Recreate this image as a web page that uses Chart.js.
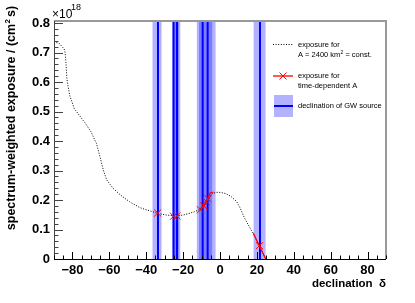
<!DOCTYPE html>
<html>
<head>
<meta charset="utf-8">
<script src="https://cdn.jsdelivr.net/npm/chart.js@4.4.0/dist/chart.umd.min.js"></script>
<style>
  body { margin: 0; background: #fff; }
  #wrap { width: 415px; height: 303px; }
</style>
</head>
<body>
<div id="wrap"><canvas id="expoChart" width="415" height="303"></canvas></div>
<script>
// exposure for constant A (dotted curve)
const curveDec = [-90, -87, -84.5, -84, -83.5, -83, -81.5, -79, -76, -73, -70, -67, -65, -63.3, -61.4, -58, -54, -49, -43.4, -38, -33.8, -29, -24.4, -20, -17, -14, -11.7, -9.5, -7.2, -5.5, -4, -2, 0, 3, 6, 9, 11, 13, 15.4, 18, 20.8, 24.8];
const curveExp = [0.737, 0.730, 0.712, 0.700, 0.665, 0.610, 0.555, 0.510, 0.485, 0.460, 0.432, 0.392, 0.345, 0.302, 0.268, 0.240, 0.217, 0.194, 0.174, 0.163, 0.155, 0.149, 0.146, 0.149, 0.154, 0.160, 0.166, 0.178, 0.194, 0.210, 0.222, 0.226, 0.226, 0.222, 0.212, 0.195, 0.172, 0.143, 0.115, 0.087, 0.053, 0.0];

// exposure for time-dependent A (red line pieces, null = break)
const tdLineDec = [-10.8, -9.5, -8.3, -7.2, -6.2, -5.4, -3.6, null, 18.1, 21.2, 24.8];
const tdLineExp = [0.166, 0.174, 0.185, 0.198, 0.210, 0.224, 0.227, null, 0.087, 0.046, 0.0];
const tdCrossDec = [-33.8, -25.2, -23.4, -10.6, -8.8, -7.4, -6.6, 21.4];
const tdCrossExp = [0.156, 0.145, 0.146, 0.167, 0.180, 0.195, 0.205, 0.045];

// GW source declinations and uncertainty bands
const srcDec = [-33.6, -25.2, -23.3, -9.4, -6.7, 21.7];
const srcLo = [-36.7, -25.9, -25.0, -12.7, -11.4, 18.1];
const srcHi = [-31.6, -22.3, -21.4, -4.1, -2.3, 24.8];

const xTicks = [-80, -60, -40, -20, 0, 20, 40, 60, 80];
const yTicks = [0, 0.1, 0.2, 0.3, 0.4, 0.5, 0.6, 0.7, 0.8];
const yTop = 0.807;

const fontFam = '"Liberation Sans", Arial, Helvetica, sans-serif';

const datasets = [];
srcDec.forEach(function(d, i) {
  datasets.push({
    type: 'line',
    data: [{x: srcLo[i], y: yTop}, {x: srcHi[i], y: yTop}],
    fill: 'origin',
    backgroundColor: 'rgba(0, 0, 255, 0.3)',
    borderWidth: 0,
    pointRadius: 0,
    order: 5
  });
  datasets.push({
    type: 'line',
    data: [{x: d, y: 0}, {x: d, y: yTop}],
    borderColor: '#0000ff',
    borderWidth: 2,
    pointRadius: 0,
    fill: false,
    order: 4
  });
});
datasets.push({
  type: 'line',
  data: curveDec.map((d, i) => ({x: d, y: curveExp[i]})),
  borderColor: '#000',
  borderWidth: 1,
  borderDash: [1, 1.6],
  pointRadius: 0,
  fill: false,
  order: 3
});
datasets.push({
  type: 'line',
  data: tdLineDec.map((d, i) => ({x: d, y: tdLineExp[i]})),
  borderColor: '#ff0000',
  borderWidth: 1.3,
  pointRadius: 0,
  spanGaps: false,
  fill: false,
  order: 2
});
datasets.push({
  type: 'scatter',
  data: tdCrossDec.map((d, i) => ({x: d, y: tdCrossExp[i]})),
  pointStyle: 'crossRot',
  pointRadius: 5,
  borderColor: '#ff0000',
  borderWidth: 1,
  showLine: false,
  order: 1
});

// frame, inward ticks, titles and legend
const decorPlugin = {
  id: 'decor',
  afterDraw: function(chart) {
    const ctx = chart.ctx;
    const a = chart.chartArea;
    const xs = chart.scales.x, ys = chart.scales.y;
    ctx.save();
    // top and right frame
    ctx.strokeStyle = '#999';
    ctx.lineWidth = 2;
    ctx.beginPath();
    ctx.moveTo(a.left, a.top);
    ctx.lineTo(a.right, a.top);
    ctx.lineTo(a.right, a.bottom);
    ctx.stroke();
    // y axis + ticks
    ctx.strokeStyle = '#444';
    ctx.lineWidth = 1;
    ctx.beginPath();
    ctx.moveTo(a.left + 0.5, a.top);
    ctx.lineTo(a.left + 0.5, a.bottom);
    for (let k = 0; k <= 40; k++) {
      const v = k * 0.02;
      const py = Math.round(ys.getPixelForValue(v)) + 0.5;
      const len = (k % 5 === 0) ? 9 : 4.5;
      ctx.moveTo(a.left, py);
      ctx.lineTo(a.left + len, py);
    }
    ctx.stroke();
    // x axis + ticks
    ctx.strokeStyle = '#000';
    ctx.beginPath();
    ctx.moveTo(a.left, a.bottom + 0.5);
    ctx.lineTo(a.right, a.bottom + 0.5);
    for (let v = -90; v <= 90; v += 5) {
      const px = Math.round(xs.getPixelForValue(v)) + 0.5;
      const len = (v % 20 === 0) ? 7 : 3.5;
      ctx.moveTo(px, a.bottom);
      ctx.lineTo(px, a.bottom - len);
    }
    ctx.stroke();

    // axis titles
    ctx.fillStyle = '#000';
    ctx.font = 'bold 11.5px ' + fontFam;
    ctx.textAlign = 'right';
    ctx.textBaseline = 'middle';
    ctx.fillText('declination  δ', a.right, 284);

    const yTitle = 'spectrum-weighted exposure / (cm  s)';
    ctx.save();
    ctx.translate(12, 118);
    ctx.rotate(-Math.PI / 2);
    ctx.font = 'bold 12.5px ' + fontFam;
    ctx.textAlign = 'center';
    ctx.fillText(yTitle, 0, 0);
    const w = ctx.measureText(yTitle).width;
    const wPre = ctx.measureText('spectrum-weighted exposure / (cm').width;
    ctx.font = 'bold 8px ' + fontFam;
    ctx.textAlign = 'left';
    ctx.fillText('2', -w / 2 + wPre + 0.5, -4.5);
    ctx.restore();

    // x10^18
    ctx.font = '12px ' + fontFam;
    ctx.textAlign = 'left';
    ctx.textBaseline = 'alphabetic';
    ctx.fillText('×10', 52, 18);
    ctx.font = '9px ' + fontFam;
    ctx.fillText('18', 71, 10);

    // legend
    ctx.font = '7.5px ' + fontFam;
    ctx.textBaseline = 'middle';
    ctx.strokeStyle = '#000';
    ctx.lineWidth = 1;
    ctx.setLineDash([1, 1.6]);
    ctx.beginPath();
    ctx.moveTo(273, 44.5);
    ctx.lineTo(293, 44.5);
    ctx.stroke();
    ctx.setLineDash([]);
    ctx.fillText('exposure for', 298, 44.5);
    ctx.fillText('A = 2400 km', 298, 55);
    const wA = ctx.measureText('A = 2400 km').width;
    ctx.font = '5px ' + fontFam;
    ctx.fillText('2', 298 + wA + 0.3, 52.5);
    ctx.font = '7.5px ' + fontFam;
    ctx.fillText(' = const.', 298 + wA + 3, 55);

    ctx.strokeStyle = '#ff0000';
    ctx.lineWidth = 1.3;
    ctx.beginPath();
    ctx.moveTo(273, 76);
    ctx.lineTo(293, 76);
    ctx.stroke();
    ctx.lineWidth = 1;
    ctx.beginPath();
    ctx.moveTo(279.5, 72.5); ctx.lineTo(286.5, 79.5);
    ctx.moveTo(279.5, 79.5); ctx.lineTo(286.5, 72.5);
    ctx.stroke();
    ctx.fillText('exposure for', 298, 76);
    ctx.fillText('time-dependent A', 298, 86);

    ctx.fillStyle = 'rgba(0, 0, 255, 0.3)';
    ctx.fillRect(274, 95, 19, 22);
    ctx.strokeStyle = '#0000ff';
    ctx.lineWidth = 2;
    ctx.beginPath();
    ctx.moveTo(274, 106);
    ctx.lineTo(293, 106);
    ctx.stroke();
    ctx.fillStyle = '#000';
    ctx.fillText('declination of GW source', 298, 106);
    ctx.restore();
  }
};

const ctxExpo = document.getElementById('expoChart').getContext('2d');
const expoChart = new Chart(ctxExpo, {
  data: { datasets: datasets },
  options: {
    responsive: false,
    animation: false,
    layout: { padding: { top: 21, right: 29, left: 0, bottom: 0 } },
    plugins: { legend: { display: false }, tooltip: { enabled: false } },
    scales: {
      x: {
        type: 'linear',
        min: -90,
        max: 90,
        afterBuildTicks: function(s) { s.ticks = xTicks.map(v => ({value: v})); },
        afterFit: function(s) { s.height = 44; },
        grid: { display: false, drawTicks: false },
        border: { display: false },
        ticks: {
          autoSkip: false,
          maxRotation: 0,
          padding: 4,
          color: '#000',
          font: { family: fontFam, size: 13, weight: 'bold' },
          callback: function(v) { return v < 0 ? '\u2212' + Math.abs(v) : String(v); }
        }
      },
      y: {
        type: 'linear',
        min: 0,
        max: yTop,
        afterBuildTicks: function(s) { s.ticks = yTicks.map(v => ({value: v})); },
        afterFit: function(s) { s.width = 54; },
        grid: { display: false, drawTicks: false },
        border: { display: false },
        ticks: {
          padding: 4,
          color: '#000',
          font: { family: fontFam, size: 13, weight: 'bold' },
          callback: function(v) { return v === 0 ? '0' : v.toFixed(1); }
        }
      }
    }
  },
  plugins: [decorPlugin]
});
</script>
</body>
</html>
